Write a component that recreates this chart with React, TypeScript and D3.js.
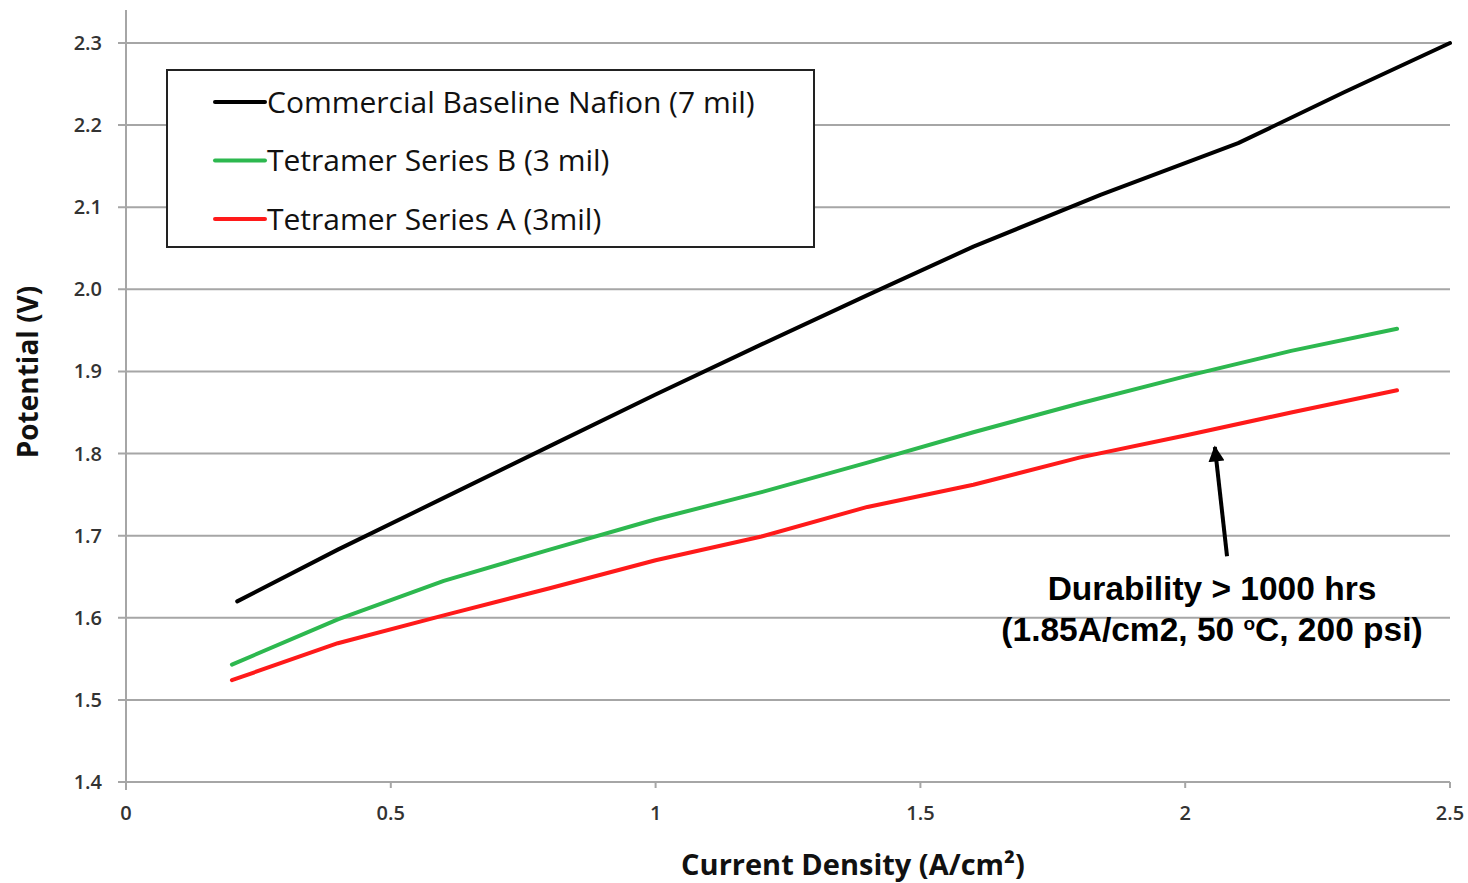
import React from 'react';
import * as d3 from 'd3';

const nafionX = [0.21, 0.4, 0.6, 0.8, 1.0, 1.2, 1.4, 1.6, 1.84, 2.1, 2.3, 2.5];
const nafionY = [1.62, 1.683, 1.746, 1.809, 1.872, 1.933, 1.993, 2.052, 2.115, 2.178, 2.24, 2.3];

const seriesBX = [0.2, 0.4, 0.6, 0.8, 1.0, 1.2, 1.4, 1.6, 1.8, 2.0, 2.2, 2.4];
const seriesBY = [1.543, 1.598, 1.645, 1.683, 1.72, 1.753, 1.789, 1.826, 1.861, 1.894, 1.925, 1.952];

const seriesAX = [0.2, 0.4, 0.6, 0.8, 1.0, 1.2, 1.4, 1.6, 1.8, 2.0, 2.2, 2.4];
const seriesAY = [1.524, 1.569, 1.603, 1.636, 1.67, 1.699, 1.735, 1.762, 1.795, 1.822, 1.85, 1.877];

const legendLabels = ['Commercial Baseline Nafion (7 mil)', 'Tetramer Series B (3 mil)', 'Tetramer Series A (3mil)'];
const seriesColors = ['#000000', '#2db84f', '#ff1a1a'];

const xTicks = [0, 0.5, 1, 1.5, 2, 2.5];
const xTickLabels = ['0', '0.5', '1', '1.5', '2', '2.5'];
const yTicks = [1.4, 1.5, 1.6, 1.7, 1.8, 1.9, 2.0, 2.1, 2.2, 2.3];

// annotation arrow: tail -> tip, in data units
const arrowFrom = [2.079, 1.675];
const arrowTo = [2.056, 1.808];

export default function App() {
  const width = 1468;
  const height = 883;
  const x = d3.scaleLinear().domain([0, 2.5]).range([126, 1450]);
  const y = d3.scaleLinear().domain([1.4, 2.3]).range([782, 43]);

  const line = d3.line<[number, number]>()
    .x(d => x(d[0]))
    .y(d => y(d[1]));

  const series = [
    nafionX.map((v, i) => [v, nafionY[i]] as [number, number]),
    seriesBX.map((v, i) => [v, seriesBY[i]] as [number, number]),
    seriesAX.map((v, i) => [v, seriesAY[i]] as [number, number]),
  ];

  const tickFont = '"Open Sans", "Liberation Sans", sans-serif';
  const legendFont = '"Open Sans", "Liberation Sans", sans-serif';

  const ax1 = x(arrowFrom[0]), ay1 = y(arrowFrom[1]);
  const ax2 = x(arrowTo[0]), ay2 = y(arrowTo[1]);

  return (
    <svg width={width} height={height} style={{ position: 'absolute', left: 0, top: 0, background: '#fff' }}>
      <defs>
        <marker id="arrowHead" viewBox="0 0 10 10" refX="9" refY="5" markerWidth="4" markerHeight="4" orient="auto">
          <path d="M0,0 L10,5 L0,10 z" fill="#000" />
        </marker>
      </defs>

      {/* gridlines */}
      {yTicks.map(t => (
        <line key={t} x1={118} x2={1450} y1={y(t)} y2={y(t)} stroke="#a6a6a6" strokeWidth={2} />
      ))}
      {/* y axis */}
      <line x1={126} x2={126} y1={10} y2={790} stroke="#a6a6a6" strokeWidth={2} />
      {/* x ticks */}
      {xTicks.map(t => (
        <line key={t} x1={x(t)} x2={x(t)} y1={782} y2={788} stroke="#a6a6a6" strokeWidth={2} />
      ))}

      {/* y tick labels */}
      {yTicks.map(t => (
        <text key={t} x={102} y={y(t)} dy="0.35em" textAnchor="end" fontFamily={tickFont}
          fontSize={20} fontWeight={600} fill="#333">{t.toFixed(1)}</text>
      ))}
      {/* x tick labels */}
      {xTicks.map((t, i) => (
        <text key={t} x={x(t)} y={820} textAnchor="middle" fontFamily={tickFont}
          fontSize={20} fontWeight={600} fill="#333">{xTickLabels[i]}</text>
      ))}

      {/* series */}
      {series.map((s, i) => (
        <path key={i} d={line(s) || ''} fill="none" stroke={seriesColors[i]} strokeWidth={4}
          strokeLinejoin="round" strokeLinecap="round" />
      ))}

      {/* legend */}
      <rect x={167} y={70} width={647} height={177} fill="#fff" stroke="#222" strokeWidth={2} />
      {legendLabels.map((lab, i) => (
        <g key={lab} transform={`translate(0,${102 + i * 58.5})`}>
          <line x1={215} x2={265} y1={0} y2={0} stroke={seriesColors[i]} strokeWidth={4} strokeLinecap="round" />
          <text x={267} y={0} dy="0.35em" fontFamily={legendFont} fontSize={30} fill="#111">{lab}</text>
        </g>
      ))}

      {/* annotation */}
      <line x1={ax1} y1={ay1} x2={ax2} y2={ay2} stroke="#000" strokeWidth={4} markerEnd="url(#arrowHead)" />
      <text x={1212} y={600} textAnchor="middle" fontFamily='"Liberation Sans", Arial, sans-serif'
        fontSize={33.5} fontWeight="bold" fill="#000">Durability &gt; 1000 hrs</text>
      <text x={1212} y={641} textAnchor="middle" fontFamily='"Liberation Sans", Arial, sans-serif'
        fontSize={33.5} fontWeight="bold" fill="#000">
        (1.85A/cm2, 50 <tspan fontSize={19} dy={-11}>o</tspan><tspan dy={11}>C, 200 psi)</tspan>
      </text>

      {/* axis titles */}
      <text transform="translate(38,372) rotate(-90)" textAnchor="middle" fontFamily={tickFont}
        fontSize={28} fontWeight="bold" fill="#111">Potential (V)</text>
      <text x={853} y={875} textAnchor="middle" fontFamily={tickFont}
        fontSize={29} fontWeight="bold" fill="#111">Current Density (A/cm²)</text>
    </svg>
  );
}
